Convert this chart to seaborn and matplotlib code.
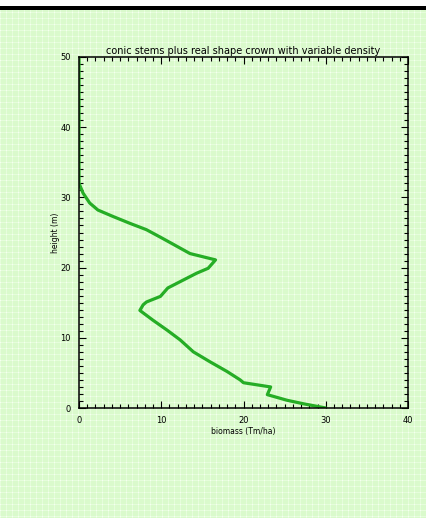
import numpy as np
import pandas as pd
import matplotlib
matplotlib.use("Agg")
import matplotlib.pyplot as plt
from matplotlib.patches import Rectangle
from matplotlib.ticker import MultipleLocator
import seaborn as sns


# DATA (top of the tree down to the ground)

height = [50, 32, 30.6, 29.2, 28.2, 27.3, 26.3, 25.4, 24.2, 22.0, 21.1,
          19.9, 19.2, 18.0, 17.1, 15.9, 15.1, 14.7, 13.9, 12.5, 11.1,
          9.7, 8.0, 6.6, 5.2, 4.0, 3.6, 3.0, 1.9, 1.1, 0.6, 0.0]
biomass = [0, 0, 0.5, 1.3, 2.3, 4.1, 6.2, 8.2, 10.1, 13.5, 16.6,
           15.7, 14.3, 12.3, 10.8, 9.9, 8.2, 7.8, 7.4, 9.0, 10.7,
           12.3, 13.9, 15.9, 18.0, 19.6, 20.0, 23.3, 22.9, 25.3, 27.3, 30.0]

x_ticks = [0, 10, 20, 30, 40]
y_ticks = [0, 10, 20, 30, 40, 50]

df = pd.DataFrame({"biomass": biomass, "height": height})


# FIGURE

sns.set_style("ticks")
plt.rcParams["font.family"] = ["DejaVu Sans"]
plt.rcParams["text.color"] = "black"
plt.rcParams["axes.labelcolor"] = "black"
plt.rcParams["xtick.labelcolor"] = "black"
plt.rcParams["ytick.labelcolor"] = "black"

W, H = 427, 518
fig = plt.figure(figsize=(W / 100, H / 100), dpi=100)

# light green plaid background
base = np.array([218, 250, 204]) / 255
light = np.array([230, 253, 220]) / 255
bg = np.tile(base, (H, W, 1))
bg[::6, :, :] = light
bg[:, ::6, :] = light
bg[::6, ::6, :] = np.array([245, 255, 240]) / 255
fig.figimage(bg, xo=0, yo=0, zorder=0)

# white strip and black band across the top
fig.patches.append(Rectangle((0, 1 - 6 / H), 1, 6 / H, transform=fig.transFigure,
                             facecolor="white", edgecolor="none", zorder=1))
fig.patches.append(Rectangle((0, 1 - 10 / H), 1, 4 / H, transform=fig.transFigure,
                             facecolor="black", edgecolor="none", zorder=1))

ax = fig.add_axes([79 / W, 1 - 408 / H, (408 - 79) / W, (408 - 57) / H])
ax.set_facecolor("none")
ax.set_zorder(3)

sns.lineplot(data=df, x="biomass", y="height", sort=False, estimator=None,
             color="#25ad25", linewidth=2.3, ax=ax)

ax.set_xlim(0, 40)
ax.set_ylim(0, 50)
ax.set_xticks(x_ticks)
ax.set_yticks(y_ticks)
ax.xaxis.set_minor_locator(MultipleLocator(1))
ax.yaxis.set_minor_locator(MultipleLocator(1))
ax.tick_params(which="both", direction="in", top=True, right=True,
               color="black", width=0.8, labelsize=6, pad=6)
ax.tick_params(which="major", length=5)
ax.tick_params(which="minor", length=3)
for s in ax.spines.values():
    s.set_linewidth(1.1)
    s.set_color("black")

ax.set_title("conic stems plus real shape crown with variable density",
             fontsize=7, pad=2, color="black")
ax.set_xlabel("biomass (Tm/ha)", fontsize=5.5, labelpad=1)
ax.set_ylabel("height (m)", fontsize=5.5, labelpad=0)

fig.savefig("out.png", dpi=100)
